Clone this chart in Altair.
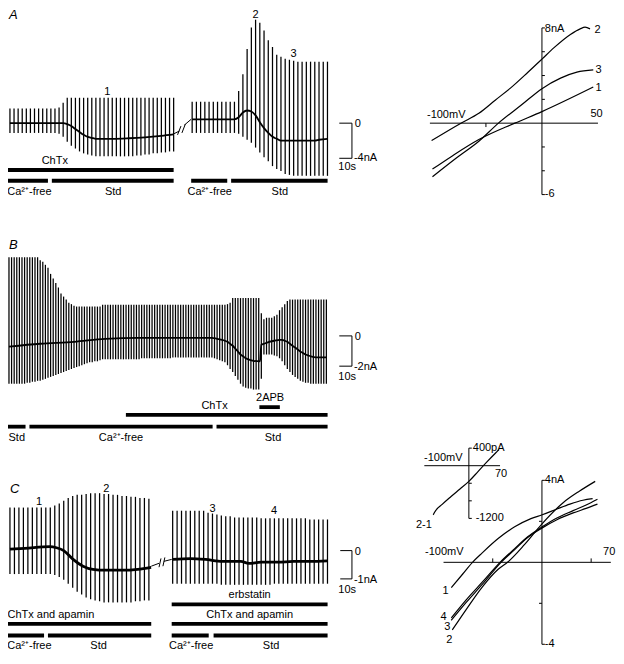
import altair as alt
import pandas as pd

# ===================== DATA =====================
# Panel A, first recording: sweep peak / trough current (nA) and holding current
A1_top = [1.67]*12 + [1.78, 2.33] + [2.89]*27
A1_bot = ([-1.11]*12 + [-1.22, -1.56, -2.11, -2.56, -2.89, -3.22, -3.44, -3.56, -3.67]
          + [-3.78]*10 + [-3.67, -3.67, -3.56, -3.56, -3.44, -3.44, -3.33, -3.33, -3.22, -3.22])
A1_hold_t = [0, 13, 14, 15, 16, 17, 18, 19, 20, 21, 25, 29, 33, 37, 40]
A1_hold = [0, 0, -0.11, -0.33, -0.67, -1.0, -1.33, -1.56, -1.67, -1.78, -1.78, -1.72, -1.61, -1.44, -1.28]

# Panel A, second recording
A2_top = [2.44]*11 + [3.67, 5.56, 8.44, 10.89, 11.78, 11.44, 10.56, 9.44, 8.67, 7.78, 7.56, 7.33, 7.22, 7.11] + [7.0]*8
A2_bot = [-1.11]*11 + [-1.22, -1.56, -1.89, -2.22, -2.78, -3.33, -3.89, -4.33, -4.89, -5.22, -5.44, -5.78, -5.89] + [-6.0]*9
A2_hold_t = [0, 10, 11, 12, 13, 14, 15, 16, 17, 18, 19, 20, 21, 29, 30, 32]
A2_hold = [0.44, 0.44, 0.67, 1.22, 1.44, 1.33, 0.89, 0.11, -0.56, -1.11, -1.56, -1.78, -2.0, -2.0, -1.89, -1.78]

# Panel B
B_top = ([5.2]*12 + [5.0, 4.9, 4.7, 4.5, 4.1, 3.8, 3.5, 3.2, 2.8, 2.6, 2.4, 2.2, 2.1, 2.0]
         + [1.94]*10 + [2.06]*48 + [2.1, 2.2] + [2.5]*11 + [1.5]
         + [1.1, 1.2, 1.2, 1.2, 1.3] + [1.4, 1.7, 1.9, 2.1, 2.3] + [2.4]*15)
B_bot = ([-3.16]*7 + [-3.10]*2 + [-3.03]*2 + [-2.97]*2 + [-2.90, -2.84, -2.77, -2.71, -2.65]
         + [-2.58, -2.52, -2.45, -2.39, -2.32, -2.26, -2.19, -2.13] + [-2.06, -2.00, -1.94, -1.87, -1.81]
         + [-1.74, -1.74, -1.68, -1.68, -1.61] + [-1.55]*15 + [-1.48]*12 + [-1.42]*16
         + [-1.48, -1.55, -1.61, -1.68, -1.74] + [-1.94, -2.19, -2.39, -2.65, -2.90, -3.16, -3.35]
         + [-3.42, -3.48, -3.48, -3.55, -3.55, -3.55] + [-2.84] + [-1.23]*4 + [-1.29]
         + [-1.35, -1.48, -1.68, -1.94, -2.19] + [-2.39, -2.58, -2.71, -2.84, -2.97, -3.03]
         + [-3.10]*2 + [-3.16]*7)
B_hold_t = [0, 12, 25, 37, 50, 78, 80, 82, 83, 84, 85, 86, 87, 88, 89, 90, 91, 92, 94, 96.5,
            97, 98, 100, 102, 104, 105, 106, 107, 108, 109, 110, 111, 112, 113, 114, 115, 116, 118, 122]
B_hold = [-0.71, -0.52, -0.39, -0.19, -0.13, -0.13, -0.19, -0.26, -0.32, -0.39, -0.52, -0.65, -0.84,
          -1.03, -1.23, -1.35, -1.48, -1.55, -1.65, -1.68, -0.58, -0.52, -0.39, -0.32, -0.26, -0.26,
          -0.32, -0.39, -0.52, -0.65, -0.77, -0.90, -1.03, -1.13, -1.23, -1.29, -1.35, -1.42, -1.42]

# Panel C, first recording
C1_top = [1.52]*10 + [1.59, 1.66, 1.76, 1.86, 1.93, 1.97, 1.97, 2.0, 2.03, 2.03, 2.03, 2.0, 2.0,
                      1.97, 1.97, 1.93, 1.93, 1.90, 1.90, 1.86, 1.86, 1.83]
C1_bot = ([-0.83]*10 + [-0.86, -0.93, -1.03, -1.17, -1.31, -1.45, -1.55, -1.66, -1.72, -1.76, -1.79]
          + [-1.83]*7 + [-1.79, -1.79, -1.76, -1.76])
C1_hold_t = [0, 3.3, 8.9, 10.4, 12, 14.1, 16.3, 18.5, 21.3, 25, 28.5, 31.5]
C1_hold = [0.05, 0.08, 0.14, 0.10, 0.0, -0.31, -0.55, -0.66, -0.69, -0.69, -0.66, -0.59]

# Panel C, second recording
C2_top = [1.41]*8 + [1.34, 1.31, 1.28, 1.24, 1.21, 1.21] + [1.17]*6 + [1.14]*11 + [1.10]*5
C2_bot = [-1.17]*11 + [-1.21]*12 + [-1.17]*13
C2_hold_t = [0, 4, 7.4, 11.2, 15.4, 17.2, 20, 23.8, 27.3, 31, 35]
C2_hold = [-0.31, -0.28, -0.31, -0.38, -0.38, -0.45, -0.41, -0.41, -0.38, -0.38, -0.36]

# I-V curves, panel A (mV, nA)
IVA = {
    "1": ([-97.7, -80, -56.3, -24.2, 0, 45.8], [-3.86, -2.75, -1.38, 0, 0.97, 3.03]),
    "2": ([-98.5, -72.3, -56.3, -41.7, -27.1, -12.5, 0, 10.8, 25.4, 34.1, 38.5, 42.9],
          [-1.46, 0, 0.83, 1.93, 3.03, 4.28, 5.38, 6.34, 7.45, 7.92, 8.06, 7.92]),
    "3": ([-97.7, -76.7, -56.3, -38.8, -18.4, 0, 16.6, 31.2, 45.8],
          [-4.5, -2.95, -1.52, 0, 1.52, 2.9, 3.78, 4.28, 4.47]),
}
# I-V curves, panel C (mV, nA)
IVC = {
    "1": ([-92.1, -80.5, -70.6, -60.7, -44.2, -27.7, -11.2, 0.3, 15.2, 28.4, 41.6, 51.5],
          [-1.24, -0.57, 0, 0.46, 1.17, 1.73, 2.13, 2.32, 2.6, 2.84, 3.03, 3.11]),
    "2": ([-91.1, -77.2, -60.7, -44.2, -35, -17.8, 0.3, 21.8, 38.3, 54.1],
          [-3.3, -2.32, -1.21, -0.33, 0, 0.86, 1.89, 2.92, 3.48, 3.95]),
    "3": ([-92.1, -77.2, -60.7, -41.6, -27.7, -14.5, 0.3, 15.2, 31.7, 44.9, 56.4],
          [-2.83, -1.97, -1.08, 0, 0.62, 1.21, 1.68, 2.08, 2.41, 2.63, 2.84]),
    "4": ([-92.1, -77.2, -60.7, -42.6, -27.7, -14.5, 0.3, 15.2, 31.7, 44.9, 56.4],
          [-2.71, -1.84, -0.97, 0, 0.67, 1.25, 1.73, 2.16, 2.52, 2.8, 3.08]),
}
# inset difference curve 2-1 (mV, pA)
INSET_mV = [-80, -77, -60, -40, -20, 0, 20, 40, 60, 68]
INSET_pA = [-1120, -1060, -880, -700, -530, -356, -140, 80, 290, 370]

# ===================== LAYOUT (panel placement on the figure) =====================
# trace panels: first sweep x, sweep spacing, y of 0 nA, px per nA
TR = {"A1": (2, 4.2, 118, 9), "A2": (189, 4.34, 118, 9), "B": (1, 2.67, 336, 15.5),
      "C1": (2, 4.6, 556, 29), "C2": (169, 4.54, 556, 29)}
# IV panels: x of 0 mV, px per mV, y of 0, px per unit
IVL = {"A": (548, 1.15, 118, 12.2), "C": (548, 1.01, 568, 21.0), "I": (473, 0.457, 469, 0.045)}

def tx(p, k):
    x0, dx, _, _ = TR[p]
    return x0 + dx * k

def ty(p, v):
    _, _, y0, s = TR[p]
    return y0 - s * v

def ivx(p, v):
    return IVL[p][0] + IVL[p][1] * v

def ivy(p, v):
    return IVL[p][2] - IVL[p][3] * v

sweeps = []
for p, tops, bots in [("A1", A1_top, A1_bot), ("A2", A2_top, A2_bot), ("B", B_top, B_bot),
                      ("C1", C1_top, C1_bot), ("C2", C2_top, C2_bot)]:
    for k, (t, b) in enumerate(zip(tops, bots)):
        sweeps.append({"x": tx(p, k), "y": ty(p, t), "y2": ty(p, b), "p": p})
sweeps = pd.DataFrame(sweeps)

hold_thin, hold_thick = [], []
for p, ts, vs in [("A1", A1_hold_t, A1_hold), ("A2", A2_hold_t, A2_hold), ("B", B_hold_t, B_hold),
                  ("C1", C1_hold_t, C1_hold), ("C2", C2_hold_t, C2_hold)]:
    dest = hold_thick if p.startswith("C") else hold_thin
    for i, (t, v) in enumerate(zip(ts, vs)):
        dest.append({"x": tx(p, t), "y": ty(p, v), "id": p, "o": i})
hold_thin = pd.DataFrame(hold_thin)
hold_thick = pd.DataFrame(hold_thick)

curves = []
for p, dct in [("A", IVA), ("C", IVC)]:
    for name, (mv, na) in dct.items():
        for i, (a, b) in enumerate(zip(mv, na)):
            curves.append({"x": ivx(p, a), "y": ivy(p, b), "id": p + name, "o": i})
for i, (a, b) in enumerate(zip(INSET_mV, INSET_pA)):
    curves.append({"x": ivx("I", a), "y": ivy("I", b), "id": "I", "o": i})
curves = pd.DataFrame(curves)

segs = []
def seg(x, y, x2, y2):
    segs.append({"x": x, "y": y, "x2": x2, "y2": y2})

# IV axes and ticks
for p, xr, yr, yt, yside, xt, xdir in [
        ("A", (-100, 50), (-6, 8), [-6, -4, -2, 2, 4, 6, 8], [1]*7, [-50], 1),
        ("C", (-100, 70), (-4, 4), [-4, -2, 2, 4], [1, -1, -1, 1], [-50, 50], -1),
        ("I", (-100, 70), (-1200, 400), [-1200, -800, -400, 400], [1, 1, 1, 1], [], -1)]:
    seg(ivx(p, xr[0]), ivy(p, 0), ivx(p, xr[1]), ivy(p, 0))
    seg(ivx(p, 0), ivy(p, yr[0]), ivx(p, 0), ivy(p, yr[1]))
    for v, sd in zip(yt, yside):
        seg(ivx(p, 0), ivy(p, v), ivx(p, 0) + 3 * sd, ivy(p, v))
    for v in xt:
        seg(ivx(p, v), ivy(p, 0), ivx(p, v), ivy(p, 0) + 4 * xdir)

# scale bars (bracket): x_left, x_right, y_top, y_bottom
for xl, xr_, yt_, yb in [(340, 353, 118, 154), (340, 353, 336, 367), (341, 353, 556, 585)]:
    seg(xl, yt_, xr_, yt_)
    seg(xr_, yt_, xr_, yb)
    seg(xl, yb, xr_, yb)

# break marks
for a in [(170, 129, 176, 126), (174, 130, 177.5, 121), (178.5, 128, 182, 119), (181, 120, 188, 114),
          (147, 572, 155, 569), (155, 573, 157, 564), (159, 572, 161, 563), (160, 567, 168, 565)]:
    seg(*a)
segs = pd.DataFrame(segs)

# solution bars (x start, x end, y)
bars = pd.DataFrame([
    (0, 170, 166), (0, 41, 177), (45, 170, 177), (188, 225, 177), (229, 328, 177),
    (121, 328, 417), (258, 279, 409), (0, 18, 429), (22, 210, 429), (214, 328, 429),
    (0, 147, 631), (0, 37, 643), (41, 147, 643), (168, 328, 611), (168, 328, 631),
    (168, 206, 643), (211, 328, 643)], columns=["x", "x2", "y"])

CA = "Ca\u00b2\u207a-free"
txt_center = pd.DataFrame([
    (102, 86, "1"), (254, 7, "2"), (293, 47, "3"), (48, 157, "ChTx"),
    (22, 189, CA), (108, 189, "Std"), (207, 189, CA), (279, 189, "Std"),
    (212, 408, "ChTx"), (269, 400, "2APB"), (9, 441, "Std"), (116, 441, CA), (272, 441, "Std"),
    (32, 506, "1"), (101, 493, "2"), (210, 513, "3"), (273, 515, "4"),
    (44, 622, "ChTx and apamin"), (248, 602, "erbstatin"), (248, 622, "ChTx and apamin"),
    (22, 654, CA), (93, 654, "Std"), (188, 654, CA), (270, 654, "Std"),
    (604, 109, "50"), (617, 557, "70"), (506, 478, "70"),
    (449, 597, "1"), (447, 624, "4"), (451, 634, "3"), (453, 648, "2"),
], columns=["x", "y", "t"])
txt_left = pd.DataFrame([
    (356, 119, "0"), (355, 154, "-4nA"), (339, 163, "10s"),
    (356, 337, "0"), (355, 368, "-2nA"), (339, 378, "10s"),
    (356, 557, "0"), (355, 586, "-1nA"), (339, 596, "10s"),
    (551, 22, "8nA"), (551, 191, "-6"), (430, 110, "-100mV"),
    (602, 23, "2"), (603, 64, "3"), (603, 82, "1"),
    (551, 484, "4nA"), (551, 652, "-4"), (428, 557, "-100mV"),
    (477, 451, "400pA"), (480, 523, "-1200"), (427, 461, "-100mV"),
], columns=["x", "y", "t"])
txt_right = pd.DataFrame([(435, 530, "2-1")], columns=["x", "y", "t"])
letters = pd.DataFrame([(1, 7, "A"), (1, 243, "B"), (2, 493, "C")], columns=["x", "y", "t"])

# ===================== CHART =====================
# the figure (624 x 664) is drawn into the 608 x 648 plot area
X = alt.X("x:Q", scale=alt.Scale(domain=[0, 624], nice=False, zero=False), axis=None)
Y = alt.Y("y:Q", scale=alt.Scale(domain=[0, 664], nice=False, zero=False, reverse=True), axis=None)
FONT = "Liberation Sans"

layers = [
    alt.Chart(sweeps).mark_rule(color="black", strokeWidth=1.25).encode(x=X, y=Y, y2="y2:Q"),
    alt.Chart(hold_thin).mark_line(color="black", strokeWidth=1.8, interpolate="monotone").encode(
        x=X, y=Y, detail="id:N", order="o:Q"),
    alt.Chart(hold_thick).mark_line(color="black", strokeWidth=2.8, interpolate="monotone").encode(
        x=X, y=Y, detail="id:N", order="o:Q"),
    alt.Chart(curves).mark_line(color="black", strokeWidth=1.2, interpolate="monotone").encode(
        x=X, y=Y, detail="id:N", order="o:Q"),
    alt.Chart(segs).mark_rule(color="black", strokeWidth=1).encode(x=X, y=Y, x2="x2:Q", y2="y2:Q"),
    alt.Chart(bars).mark_rule(color="black", strokeWidth=3.8, strokeCap="butt").encode(x=X, x2="x2:Q", y=Y),
    alt.Chart(txt_center).mark_text(align="center", baseline="middle", font=FONT, fontSize=11,
                                    color="black").encode(x=X, y=Y, text="t:N"),
    alt.Chart(txt_left).mark_text(align="left", baseline="middle", font=FONT, fontSize=11,
                                  color="black").encode(x=X, y=Y, text="t:N"),
    alt.Chart(txt_right).mark_text(align="right", baseline="middle", font=FONT, fontSize=11,
                                   color="black").encode(x=X, y=Y, text="t:N"),
    alt.Chart(letters).mark_text(align="left", baseline="middle", font=FONT, fontSize=13,
                                 fontStyle="italic", color="black").encode(x=X, y=Y, text="t:N"),
]

chart = alt.layer(*layers).properties(width=608, height=648, padding=0, autosize="none",
                                      background="white").configure_view(stroke=None)
chart.save("out.html", embed_options={"renderer": "svg", "actions": False})
